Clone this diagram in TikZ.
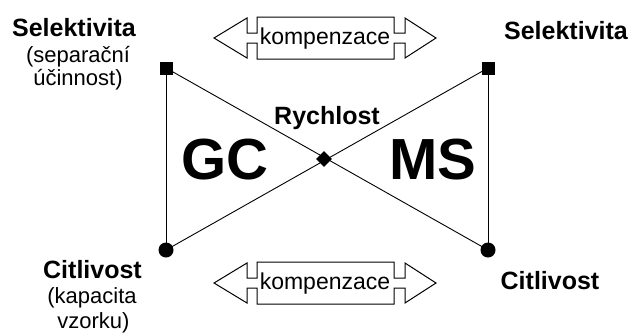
\documentclass[tikz,border=0pt]{standalone}
\usepackage{fontspec}
\setmainfont{Liberation Sans}
\begin{document}
\begin{tikzpicture}[x=1pt,y=-1pt,
  edge/.style={line width=0.9pt},
  boldlbl/.style={font=\fontsize{25}{28}\selectfont\bfseries, inner sep=0pt, anchor=base},
  lbl/.style={font=\fontsize{22}{25}\selectfont, inner sep=0pt, anchor=base},
  biglbl/.style={font=\fontsize{58}{60}\selectfont\bfseries, inner sep=0pt},
  sqmark/.style={fill=black, minimum size=13pt, inner sep=0pt, draw=none, rectangle},
  dotmark/.style={fill=black, minimum size=15pt, inner sep=0pt, draw=none, circle},
  diamark/.style={fill=black, minimum size=11pt, inner sep=0pt, draw=none, rectangle, rotate=45},
  arrowbox/.style={line width=1pt, fill=white},
  komp/.style={font=\fontsize{23}{25}\selectfont, inner sep=0pt}
]
\useasboundingbox (0,0) rectangle (632,333);

% corner markers and centre
\node[sqmark] (tl) at (166,68) {};
\node[sqmark] (tr) at (488,68) {};
\node[dotmark] (bl) at (166,250) {};
\node[dotmark] (br) at (488,250) {};
\coordinate (c) at (324,159);

% connectors
\draw[edge] (tl.center) -- (bl.center);
\draw[edge] (tr.center) -- (br.center);
\draw[edge] (tl.center) -- (br.center);
\draw[edge] (tr.center) -- (bl.center);
\node[diamark] (mid) at (c) {};

% double arrows with label box
\foreach \yy/\nm in {38/top, 283/bot}{
  \begin{scope}[yshift=-\yy pt]
    \draw[arrowbox] (214,0) -- (247,-20) -- (247,-5) -- (257,-5) -- (257,-21)
      -- (394,-21) -- (394,-5) -- (405,-5) -- (405,-20) -- (436,0)
      -- (405,20) -- (405,5) -- (394,5) -- (394,21) -- (257,21) -- (257,5)
      -- (247,5) -- (247,20) -- cycle;
    \node[komp] (k\nm) at (325,1) {kompenzace};
  \end{scope}
}

% labels
\node[boldlbl] (selL) at (74,36.7) {Selektivita};
\node[lbl] (sepL1) at (78,62.5) {(separační};
\node[lbl] (sepL2) at (78,85.5) {účinnost)};
\node[boldlbl] (selR) at (566,39.5) {Selektivita};
\node[boldlbl] (citL) at (92.5,278) {Citlivost};
\node[lbl] (kapL1) at (92,303.5) {(kapacita};
\node[lbl] (kapL2) at (93.5,328) {vzorku)};
\node[boldlbl] (citR) at (550,289) {Citlivost};
\node[boldlbl] (rych) at (327,124) {Rychlost};
\node[biglbl] (gc) at (225,160) {GC};
\node[biglbl] (ms) at (433,160) {MS};
\end{tikzpicture}
\end{document}
